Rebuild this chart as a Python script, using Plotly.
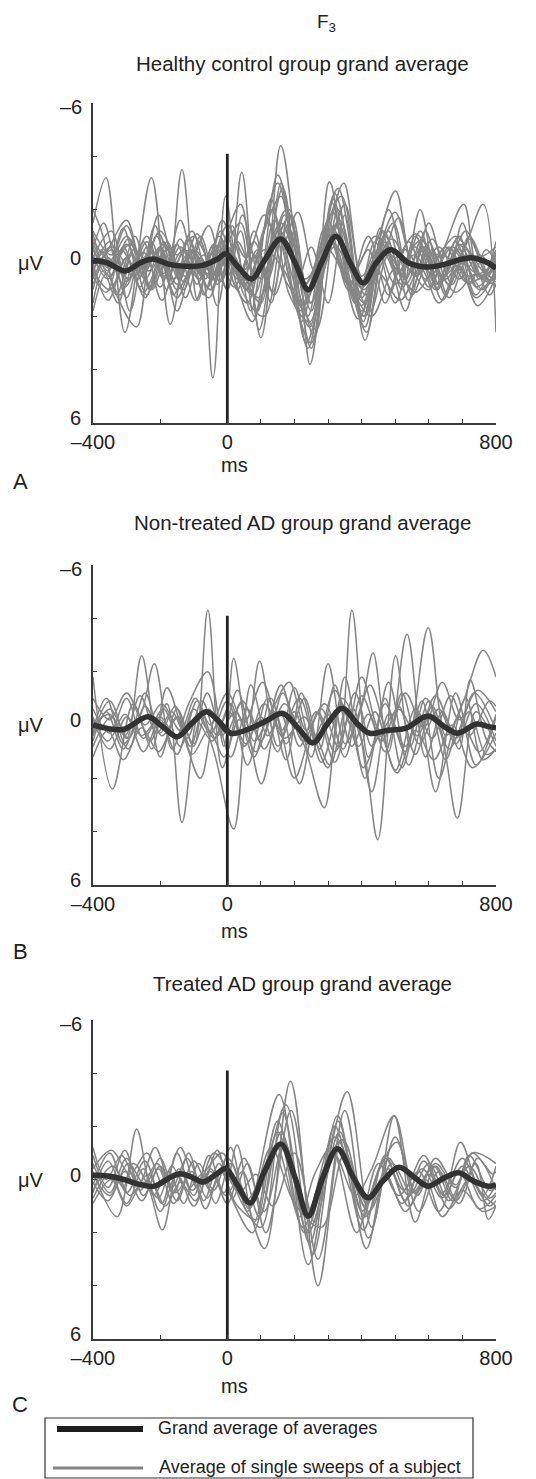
import plotly.graph_objects as go

W, H = 536, 1479

# ---------------- data ----------------
TIME_TICKS = [-400, -200, 0, 100, 200, 300, 400, 500, 600, 700, 800]
TIME_LABELS = ['–400', '', '0', '', '', '', '', '', '', '', '800']
UV_TICKS = [-6, -4, -2, 0, 2, 4, 6]
UV_LABELS = ['', '', '', '0', '', '', '6']
UV_TOP_LABEL = '–6'
STIM_X = [0, 0]
STIM_Y = [-4.1, 6]

MAIN_TITLE = 'F<sub>3</sub>'
PANEL_TITLES = ['Healthy control group grand average',
                'Non-treated AD group grand average',
                'Treated AD group grand average']
PANEL_LETTERS = ['A', 'B', 'C']
LEGEND_LABELS = ['Grand average of averages', 'Average of single sweeps of a subject']

A_GRAND = [(-400, -0.1), (-357, 0.0), (-304, 0.3), (-260, 0.0), (-222, -0.15), (-173, 0.05), (-125, 0.12),
           (-77, 0.1), (-29, -0.15), (-5, -0.35), (29, 0.1), (72, 0.6), (111, -0.1), (159, -0.9), (202, 0.0),
           (241, 1.0), (280, 0.0), (323, -1.0), (366, 0.0), (405, 0.75), (443, 0.0), (487, -0.5), (540, 0.0),
           (598, 0.15), (646, 0.05), (685, -0.1), (728, -0.2), (777, 0.0), (800, 0.2)]

A_SUBJECTS = [
    [(-400, -1.5), (-361, -3.2), (-305, 2.6), (-226, -3.2), (-170, 2.3), (-115, -1.0), (-70, 1.2), (-20, -0.8), (30, 1.0), (80, -1.2), (130, 1.5), (185, -2.0), (240, 2.0), (300, -1.6), (360, 1.0), (420, -1.0), (480, 1.2), (540, -0.8), (600, 0.9), (660, -0.6), (720, 0.8), (770, -0.5), (800, 0.0)],
    [(-400, 0.5), (-375, -0.5), (-330, 1.2), (-270, 2.4), (-225, -0.8), (-180, 1.0), (-135, -3.5), (-88, 1.4), (-45, -0.6), (0, 1.0), (43, -3.4), (95, 2.5), (150, -1.0), (200, 1.0), (250, -0.6), (300, 1.5), (350, -1.8), (410, 2.9), (470, -0.8), (520, 1.0), (574, -2.0), (630, 0.8), (690, -0.5), (750, 1.0), (800, 0.3)],
    [(-400, 1.0), (-350, -0.6), (-300, 1.3), (-250, -0.8), (-195, 1.4), (-140, -0.4), (-90, -0.3), (-43, 4.3), (-5, -2.5), (40, 0.8), (90, -0.5), (140, 1.2), (200, -1.2), (246, 3.8), (300, -1.0), (347, -3.0), (400, 0.5), (450, -1.0), (501, -2.7), (550, 0.2), (600, 1.0), (650, -0.7), (704, -2.2), (750, 0.5), (800, 0.8)],
    [(-400, -0.3), (-355, 0.6), (-300, -0.7), (-250, 0.4), (-200, -0.6), (-150, 0.8), (-100, -0.4), (-50, 0.6), (0, -0.6), (50, 0.5), (100, 1.5), (159, -4.4), (220, 1.0), (260, 2.8), (310, -2.3), (360, 0.5), (410, 2.4), (460, -0.5), (520, 0.8), (580, -0.6), (640, 0.5), (700, -0.4), (762, -2.2), (800, 2.6)],
    [(-400, -2.0), (-370, -1.0), (-330, 1.2), (-280, -0.5), (-230, 0.9), (-180, -0.8), (-130, 0.7), (-80, -1.0), (-30, 0.8), (20, -0.7), (70, 1.8), (130, -2.4), (185, 1.2), (246, 2.2), (304, -3.05), (360, 0.8), (410, 2.0), (470, -1.0), (530, 0.8), (590, -0.6), (650, 0.6), (710, -0.5), (770, 0.4), (800, 0.0)],
    [(-400, 0.3), (-350, -0.8), (-300, 0.7), (-240, -1.0), (-190, 0.6), (-140, -0.9), (-90, 0.8), (-40, -0.7), (10, 0.5), (60, 1.5), (130, -2.0), (200, 0.8), (245, 2.4), (320, -2.6), (400, 1.8), (450, -0.3), (495, -1.5), (550, 1.2), (610, -0.5), (660, 0.8), (720, -0.9), (780, 0.7), (800, 0.4)],
    [(-400, 0.5), (-360, 1.1), (-310, -0.6), (-260, 0.9), (-210, -1.0), (-160, 1.2), (-110, -0.5), (-60, 0.9), (-10, -0.8), (40, -2.2), (90, 1.8), (165, -2.8), (235, 3.0), (330, -1.5), (405, 2.0), (480, -2.0), (545, 1.0), (600, -0.4), (650, 1.2), (700, -1.5), (750, 0.6), (800, -0.5)],
    [(-400, -0.8), (-355, 0.3), (-310, -1.3), (-260, 0.5), (-205, -1.1), (-160, 0.2), (-115, -0.9), (-65, 0.6), (-20, -1.2), (30, 0.9), (75, 2.2), (140, -1.6), (200, 1.5), (250, 3.0), (315, -1.9), (380, 1.5), (430, 0.0), (480, -1.2), (540, 1.4), (600, -0.8), (660, 1.3), (720, -0.3), (780, 1.2), (800, 0.8)],
    [(-400, -0.2), (-345, -1.2), (-290, 1.8), (-240, -0.6), (-190, 0.4), (-140, -1.6), (-100, 0.2), (-55, 1.3), (-10, -0.4), (40, -1.5), (100, 2.8), (160, -3.0), (215, 1.2), (265, 2.5), (330, -2.0), (390, 1.2), (440, -0.8), (500, 1.5), (560, -1.0), (620, 0.8), (690, -1.0), (740, 0.9), (800, 0.1)],
    [(-400, -0.6), (-360, 0.4), (-315, -0.5), (-265, 0.6), (-215, -1.4), (-170, 0.8), (-120, -0.3), (-75, 0.4), (-25, -1.0), (25, 0.4), (80, 1.2), (150, -3.3), (210, 0.8), (250, 3.2), (315, -2.4), (365, 0.6), (415, 2.6), (470, -0.6), (530, 1.8), (590, -1.2), (640, 0.6), (700, -0.7), (760, 0.6), (800, -0.2)],
    [(-400, 0.0), (-340, -0.6), (-280, 0.5), (-220, -0.4), (-160, 0.6), (-100, -0.5), (-40, 0.4), (10, -0.4), (70, 0.8), (155, -1.2), (240, 1.1), (320, -1.0), (405, 1.0), (480, -0.6), (560, 0.4), (640, -0.3), (720, 0.5), (800, 0.0)],
    [(-400, -0.5), (-350, 0.2), (-290, -0.7), (-235, 0.3), (-180, -0.5), (-125, 0.5), (-70, -0.3), (-20, 0.7), (30, -0.8), (85, 0.5), (160, -1.5), (230, 0.8), (310, -1.3), (400, 0.9), (490, -0.9), (560, 0.5), (630, -0.6), (690, 0.6), (750, -0.3), (800, 0.5)],
    [(-400, 0.8), (-355, -0.2), (-305, 0.9), (-250, -0.4), (-200, 0.9), (-150, -0.7), (-95, 1.4), (-45, -0.4), (0, 1.0), (45, -1.8), (100, 0.6), (175, -2.0), (250, 1.5), (300, -1.0), (350, 0.4), (410, 1.5), (465, -1.2), (520, 0.3), (575, -1.2), (625, 1.0), (680, -0.4), (740, 1.3), (800, 0.3)],
    [(-400, -0.5), (-368, -1.5), (-320, 0.4), (-275, -1.0), (-225, 1.0), (-175, -0.3), (-130, 1.0), (-80, -0.8), (-30, 1.6), (15, -1.4), (60, 1.0), (110, -1.2), (160, -2.5), (220, 2.2), (280, -0.8), (340, -2.5), (405, 2.2), (455, -1.3), (505, 0.4), (560, -0.6), (620, 1.0), (680, -0.8), (740, 1.2), (800, -0.8)],
    [(-400, 0.2), (-360, -0.4), (-300, -1.6), (-250, 0.2), (-200, -0.5), (-150, 1.0), (-100, -0.2), (-55, -1.4), (-10, 0.4), (40, -1.2), (80, 2.0), (140, -0.6), (190, -1.8), (246, 1.5), (300, -0.2), (350, -2.2), (410, 1.2), (460, 0.0), (510, -1.7), (560, 0.5), (610, -0.9), (670, 0.8), (720, -1.0), (780, 0.5), (800, 0.6)],
    [(-400, 1.5), (-370, 0.3), (-325, 1.5), (-285, -0.3), (-240, 1.2), (-190, -0.8), (-145, 0.6), (-100, -0.5), (-60, 0.9), (-15, -0.8), (30, 0.6), (80, -0.8), (135, 1.1), (180, -1.4), (250, 1.8), (300, -1.1), (360, 0.8), (420, -0.5), (470, 1.5), (530, -0.5), (590, 0.6), (650, -0.6), (710, 0.7), (800, 0.2)],
    [(-400, -1.1), (-350, 0.5), (-295, -0.9), (-245, 0.6), (-190, -0.7), (-140, 0.4), (-90, -1.1), (-40, 0.6), (5, -0.5), (55, 1.0), (120, -1.5), (175, 0.7), (230, 1.5), (290, -1.3), (350, 0.5), (400, 1.6), (460, -0.7), (510, 0.3), (570, -0.8), (630, 0.8), (690, -0.7), (750, 0.5), (800, -0.3)],
    [(-400, 0.6), (-345, -0.5), (-295, 0.6), (-240, -0.8), (-190, 0.5), (-140, -0.6), (-85, 0.6), (-35, -0.5), (20, 0.9), (70, -0.4), (120, 0.6), (170, -1.8), (230, 0.6), (280, -0.2), (335, -1.6), (395, 0.8), (450, -0.4), (500, 0.8), (555, -0.3), (610, 0.4), (670, -0.6), (730, 0.3), (800, 0.7)],
    [(-400, 0.3), (-350, 1.0), (-300, -0.2), (-250, 1.1), (-200, 0.0), (-150, 1.3), (-100, 0.1), (-50, 1.0), (0, -0.2), (50, 0.8), (110, -0.5), (170, 0.3), (220, 1.6), (290, -0.6), (370, 1.0), (430, 2.0), (500, 0.2), (560, 1.1), (620, 0.3), (680, 1.1), (740, 0.4), (800, 0.9)],
    [(-400, -0.9), (-350, -0.1), (-300, -1.0), (-250, -0.2), (-200, -1.2), (-150, -0.3), (-100, -1.0), (-50, -0.1), (0, -1.4), (55, -0.2), (110, -1.8), (160, -0.6), (210, -1.9), (260, 0.3), (320, -1.4), (380, 0.2), (440, -1.0), (500, -0.2), (560, -1.1), (620, -0.3), (680, -1.0), (740, -0.2), (800, -0.6)],
    [(-400, 1.8), (-360, 0.4), (-320, 1.2), (-270, -0.2), (-230, 1.0), (-175, -0.6), (-125, 1.3), (-80, -0.2), (-40, 0.6), (0, -1.0), (50, 1.2), (110, 2.0), (170, -1.5), (240, 3.2), (310, -0.8), (370, 0.4), (425, 1.8), (480, -0.3), (530, 0.6), (580, -0.9), (640, 1.4), (700, 0.0), (760, 1.0), (800, 0.2)],
    [(-400, -1.2), (-345, -0.3), (-300, -1.4), (-250, 0.2), (-205, -1.8), (-155, 0.0), (-105, -1.2), (-60, 0.4), (-15, -1.6), (40, 0.3), (90, -0.4), (150, -3.0), (225, 0.9), (275, -0.4), (330, -2.8), (400, 1.3), (450, -0.5), (500, -1.9), (555, 0.2), (600, -1.5), (650, 0.2), (710, -1.2), (770, 0.3), (800, -0.4)],
    [(-400, 0.0), (-355, 1.4), (-300, -0.2), (-245, 1.3), (-195, -0.3), (-150, 1.8), (-100, 0.2), (-50, 1.0), (-5, -0.6), (40, 0.5), (95, 1.3), (160, -0.8), (215, 1.8), (270, 0.5), (320, -0.6), (390, 2.1), (450, 0.4), (515, 1.4), (575, 0.2), (630, 1.5), (690, 0.1), (745, 1.6), (800, 0.5)],
]

B_GRAND = [(-400, 0.0), (-357, 0.13), (-308, 0.16), (-236, -0.31), (-193, 0.06), (-149, 0.44), (-106, -0.06),
           (-63, -0.5), (-29, -0.19), (10, 0.31), (68, 0.13), (121, -0.19), (164, -0.44), (212, 0.13), (255, 0.67),
           (299, -0.06), (342, -0.63), (386, -0.06), (424, 0.31), (482, 0.19), (530, 0.13), (598, -0.34),
           (646, 0.06), (685, 0.31), (742, -0.04), (777, 0.06), (800, 0.1)]

B_SUBJECTS = [
    [(-400, 0.3), (-350, -0.9), (-300, 0.5), (-255, -2.6), (-200, 1.2), (-150, -0.6), (-100, 0.8), (-58, -4.3), (-15, 1.6), (40, -0.8), (101, 2.2), (165, -1.2), (225, 0.6), (280, -0.6), (330, 0.8), (371, -4.3), (420, 1.2), (470, -0.8), (530, 1.0), (598, -3.65), (650, 0.4), (700, -0.8), (762, -2.8), (800, -1.8)],
    [(-400, -1.8), (-342, 2.4), (-280, -0.8), (-230, 0.6), (-180, -0.8), (-135, 3.65), (-85, -0.4), (-40, 1.0), (19, 3.9), (70, -1.5), (120, 0.4), (170, -0.8), (230, 0.8), (289, 3.1), (340, -1.0), (400, 0.6), (448, 4.3), (501, -2.6), (545, 0.8), (590, -1.0), (640, 0.5), (685, 3.5), (740, -0.5), (800, 0.8)],
    [(-400, 0.2), (-360, -1.0), (-310, 0.7), (-255, -0.5), (-217, -2.3), (-165, 0.9), (-115, -0.8), (-58, -2.0), (-10, 0.8), (19, -2.5), (60, 0.3), (96, -2.4), (150, 0.8), (200, -0.5), (250, 1.2), (300, -2.3), (350, 0.7), (400, -0.8), (434, -2.7), (480, 1.0), (535, -3.4), (590, 1.2), (640, -0.5), (690, 0.9), (723, -1.7), (770, 0.5), (800, 1.0)],
    [(-400, -0.6), (-350, 0.3), (-300, -1.0), (-250, 0.5), (-190, -0.6), (-140, 0.8), (-90, -0.9), (-40, 0.5), (10, -0.8), (60, 1.5), (120, -1.0), (175, 1.3), (220, -1.2), (260, 0.5), (300, 1.6), (350, -1.8), (410, 2.0), (470, -1.0), (520, 1.6), (570, -0.4), (620, 2.5), (680, -1.2), (740, 1.5), (800, -0.3)],
    [(-400, 0.8), (-345, -0.3), (-295, 0.9), (-245, -0.7), (-195, 0.4), (-145, -0.3), (-100, 0.7), (-55, -0.6), (-5, 0.3), (45, -0.9), (100, 0.6), (160, -1.5), (215, 0.8), (265, -0.5), (320, 1.4), (380, -1.2), (430, 0.8), (480, -1.6), (540, 1.5), (600, -0.9), (650, 1.3), (710, -1.0), (760, 1.3), (800, 0.9)],
    [(-400, -0.3), (-355, 0.6), (-305, -0.4), (-255, 0.4), (-200, -0.3), (-150, 0.5), (-95, -0.2), (-45, 0.6), (5, -0.5), (55, 0.7), (110, -0.8), (170, 0.5), (230, -0.3), (280, 1.4), (340, -0.8), (390, 0.8), (440, -0.5), (500, 1.7), (560, -0.6), (610, 0.5), (665, -1.1), (720, 0.4), (780, -0.9), (800, -0.7)],
    [(-400, 0.0), (-350, -0.4), (-305, 0.4), (-260, -1.1), (-210, 0.3), (-165, -0.5), (-120, 0.5), (-75, -0.9), (-30, 0.4), (25, -0.5), (80, 1.2), (130, -1.0), (175, 0.7), (230, -1.0), (275, 0.9), (320, -1.5), (370, 0.8), (420, -0.4), (470, 1.0), (520, -1.2), (570, 0.7), (630, -0.6), (680, 0.7), (740, -0.8), (800, 0.6)],
    [(-400, 1.2), (-355, 0.2), (-310, 1.3), (-255, 0.1), (-205, 1.0), (-150, -0.3), (-105, 1.1), (-55, 0.2), (-10, 1.2), (35, -0.2), (85, 1.0), (140, -0.5), (200, 2.0), (255, 0.3), (305, 1.5), (355, -0.6), (405, 1.6), (455, 0.4), (505, 1.8), (560, 0.2), (615, 1.3), (670, 0.0), (730, 1.6), (800, 0.3)],
    [(-400, -1.0), (-350, -0.2), (-300, -1.2), (-245, 0.0), (-195, -0.8), (-140, 0.2), (-95, -1.0), (-50, 0.0), (0, -1.2), (50, -0.1), (105, -1.6), (160, 0.2), (215, -1.0), (265, 0.6), (320, -1.3), (375, 0.1), (425, -1.5), (480, 0.3), (530, -1.2), (585, 0.1), (640, -1.6), (690, -0.2), (745, -1.3), (800, -0.5)],
    [(-400, 0.6), (-360, -0.5), (-310, 0.9), (-265, -0.2), (-225, 0.9), (-180, -1.4), (-130, 0.4), (-80, 2.0), (-35, -0.3), (10, 1.2), (60, -0.6), (110, 0.9), (160, -0.4), (215, 2.2), (270, -0.5), (320, 1.0), (375, -0.6), (430, 2.5), (480, -0.4), (530, 0.8), (580, -0.9), (630, 2.0), (690, -0.3), (750, 1.0), (800, -0.4)],
    [(-400, -0.2), (-350, 0.9), (-300, -0.3), (-250, 1.0), (-200, -0.2), (-150, 1.1), (-100, -0.6), (-50, 0.3), (0, -0.9), (50, 0.8), (100, -0.3), (150, 1.0), (200, -1.4), (250, 0.6), (300, -0.4), (350, 1.2), (400, -1.1), (460, 0.6), (510, -0.7), (560, 1.1), (610, -0.7), (660, 0.9), (720, -0.5), (770, 1.1), (800, 0.9)],
    [(-400, 0.4), (-350, -0.6), (-295, 0.5), (-245, -1.2), (-200, 0.3), (-155, -0.7), (-110, 0.8), (-60, -1.2), (-15, 0.4), (30, -1.3), (80, 0.6), (130, -0.5), (185, -1.6), (235, 0.2), (290, -0.8), (345, 0.9), (400, -1.8), (455, 0.2), (510, -0.6), (565, 0.4), (620, -1.1), (680, 0.5), (735, -1.2), (800, 0.2)],
]

C_GRAND = [(-400, -0.16), (-357, -0.13), (-308, 0.0), (-260, 0.19), (-217, 0.25), (-173, -0.06), (-140, -0.22),
           (-106, -0.09), (-72, 0.09), (-34, -0.19), (-5, -0.41), (29, 0.19), (68, 0.88), (111, -0.31),
           (159, -1.34), (202, -0.06), (241, 1.38), (284, -0.06), (328, -1.16), (376, -0.06), (419, 0.69),
           (463, 0.06), (511, -0.46), (559, -0.06), (598, 0.25), (646, -0.06), (689, -0.25), (733, 0.06),
           (777, 0.25), (800, 0.2)]

C_SUBJECTS = [
    [(-400, -0.6), (-350, 0.5), (-300, -0.8), (-250, 0.6), (-200, -0.5), (-150, 0.8), (-100, -0.7), (-50, 0.4), (0, -0.8), (50, 0.5), (111, 2.6), (188, -3.7), (270, 4.0), (340, -1.5), (414, 2.6), (480, -0.8), (540, 0.6), (600, -0.6), (660, 0.8), (720, -0.5), (780, 0.7), (800, 0.5)],
    [(-400, 0.5), (-355, -0.7), (-310, 0.3), (-270, -1.9), (-220, 0.6), (-175, -0.3), (-130, 0.9), (-85, -0.6), (-40, 0.4), (10, -1.2), (60, 1.2), (154, -3.2), (241, 3.2), (328, -2.4), (400, 1.5), (460, -0.5), (520, 0.9), (580, -0.4), (640, 0.7), (694, -1.4), (750, 0.4), (800, 1.0)],
    [(-400, -0.3), (-328, 1.4), (-280, -0.6), (-235, 0.3), (-193, 1.9), (-145, -0.4), (-100, 0.6), (-55, -0.9), (-10, 0.5), (29, -1.3), (80, 1.6), (150, -2.2), (230, 2.0), (300, -0.8), (357, -3.3), (430, 1.8), (497, -2.4), (559, 1.6), (620, -0.5), (680, 0.8), (740, -0.6), (777, 1.5), (800, 1.0)],
    [(-400, 0.2), (-350, -1.0), (-300, 0.5), (-245, -0.7), (-195, 0.9), (-150, -1.0), (-105, 0.4), (-60, -0.4), (-15, -1.0), (40, 0.8), (100, 1.8), (165, -2.5), (245, 2.4), (320, -2.0), (405, 1.9), (470, -0.9), (530, 0.8), (585, -0.7), (640, 0.5), (700, -0.8), (760, 0.6), (800, -0.5)],
    [(-400, -0.9), (-355, 0.3), (-305, -1.1), (-260, 0.4), (-210, -0.6), (-160, 0.5), (-115, -1.0), (-70, 0.8), (-25, -0.6), (20, 0.9), (75, 2.0), (150, -1.8), (225, 1.8), (320, -1.6), (420, 1.2), (490, -0.6), (550, 0.5), (615, -0.5), (670, 0.8), (720, -0.9), (780, 0.4), (800, 0.3)],
    [(-400, 0.7), (-350, -0.2), (-300, 0.9), (-250, -0.4), (-200, 1.2), (-150, -0.2), (-100, 1.0), (-50, -0.3), (-5, 0.6), (45, -0.3), (95, 1.4), (160, -1.8), (240, 2.0), (300, -0.5), (335, -1.8), (410, 1.4), (480, -0.4), (540, 1.0), (600, -0.2), (660, 1.1), (720, 0.0), (780, 1.0), (800, 0.8)],
    [(-400, -0.4), (-345, -1.1), (-290, -0.2), (-240, -1.0), (-190, 0.2), (-140, -1.2), (-90, 0.3), (-40, -1.0), (5, -0.3), (55, 0.8), (120, -0.8), (175, -2.8), (255, 2.8), (330, -2.2), (400, 1.2), (450, -0.3), (505, -1.4), (565, 0.6), (620, -0.8), (680, 0.2), (730, -1.0), (790, -0.2), (800, -0.3)],
    [(-400, 0.1), (-355, 0.8), (-305, -0.3), (-255, 0.8), (-205, -0.4), (-160, 0.9), (-110, -0.2), (-65, 1.1), (-20, -0.3), (30, 1.0), (90, 1.5), (145, -1.3), (215, 1.4), (260, -0.2), (310, -1.2), (385, 2.0), (450, -0.6), (510, 0.6), (570, -0.3), (630, 1.2), (690, -0.3), (750, 1.1), (800, 0.6)],
    [(-400, -1.2), (-360, 0.0), (-315, -0.9), (-265, 0.2), (-215, -1.2), (-165, 0.3), (-120, -0.8), (-75, 0.2), (-30, -1.1), (15, 0.7), (60, -0.6), (115, 2.0), (190, -2.6), (270, 3.0), (350, -2.6), (420, 2.2), (500, -1.6), (570, 1.2), (630, -0.3), (690, 0.9), (745, -0.8), (800, 0.4)],
    [(-400, 0.4), (-340, -0.5), (-290, 0.6), (-235, -0.2), (-185, 1.0), (-140, 0.1), (-95, 0.8), (-50, -0.4), (0, 0.9), (50, -0.8), (110, 1.2), (170, -1.4), (235, 1.3), (290, -0.5), (345, -1.5), (410, 1.0), (470, -0.8), (525, 0.4), (585, -0.9), (645, 0.6), (700, -0.5), (760, 0.8), (800, 0.2)],
    [(-400, -0.2), (-350, 0.6), (-295, -0.6), (-245, 0.2), (-200, -0.8), (-155, 0.5), (-105, -0.3), (-60, 0.7), (-15, -0.4), (35, 0.5), (85, -0.2), (135, 1.0), (200, -1.0), (260, 1.6), (320, -0.9), (380, 0.6), (430, -0.4), (497, -2.4), (560, 0.5), (620, -0.6), (680, 0.3), (730, -1.0), (800, -0.6)],
    [(-400, 0.9), (-345, 0.0), (-300, 1.0), (-250, 0.1), (-205, 0.7), (-165, -0.5), (-120, 0.4), (-75, -0.2), (-35, 0.9), (10, -0.6), (65, 1.1), (130, -1.2), (200, 0.9), (280, 1.8), (350, -1.0), (415, 0.9), (470, -0.2), (530, 1.2), (590, 0.0), (640, 1.4), (700, 0.4), (760, 1.2), (800, 1.0)],
]

# ---------------- layout helpers ----------------
FONT = 'Liberation Sans, Arial, Helvetica, sans-serif'
GRAY = '#858585'
DARK = '#323232'
AXC = '#3a3a3a'
TXT = '#222222'


def px_x(x):
    return x / W


def px_y(y):
    return 1 - y / H


# panel geometry (pixel rows of top (-6) and bottom (+6))
PANELS = [
    dict(top=103, bottom=423, title_y=63, ms_y=465, letter_y=481),
    dict(top=565, bottom=885, title_y=522, ms_y=931, letter_y=951),
    dict(top=1020, bottom=1339, title_y=983, ms_y=1386, letter_y=1404),
]
X0_PX, X1_PX = 93, 496

fig = go.Figure()
data_sets = [(A_GRAND, A_SUBJECTS), (B_GRAND, B_SUBJECTS), (C_GRAND, C_SUBJECTS)]
annotations = []
layout_axes = {}

for i, ((grand, subjects), geo) in enumerate(zip(data_sets, PANELS)):
    n = '' if i == 0 else str(i + 1)
    xa, ya = 'x' + n, 'y' + n
    for subj in subjects:
        fig.add_trace(go.Scatter(x=[p[0] for p in subj], y=[p[1] for p in subj], mode='lines',
                                 line=dict(color=GRAY, width=1.5, shape='spline', smoothing=1.0),
                                 xaxis=xa, yaxis=ya, showlegend=False, hoverinfo='skip'))
    fig.add_trace(go.Scatter(x=STIM_X, y=STIM_Y, mode='lines', line=dict(color='#222222', width=2.8),
                             xaxis=xa, yaxis=ya, showlegend=False, hoverinfo='skip'))
    fig.add_trace(go.Scatter(x=[p[0] for p in grand], y=[p[1] for p in grand], mode='lines',
                             line=dict(color=DARK, width=5.5, shape='spline', smoothing=1.0),
                             xaxis=xa, yaxis=ya, showlegend=False, hoverinfo='skip'))

    layout_axes['xaxis' + n] = dict(
        domain=[px_x(X0_PX), px_x(X1_PX)], anchor=ya, range=[-400, 800], automargin=False,
        showline=True, linecolor=AXC, linewidth=1.6, mirror=False,
        ticks='inside', ticklen=4, tickwidth=1.3, tickcolor=AXC,
        tickvals=TIME_TICKS, ticktext=TIME_LABELS, ticklabelstandoff=0,
        tickfont=dict(family=FONT, size=20, color=TXT),
        showgrid=False, zeroline=False, fixedrange=True)
    layout_axes['yaxis' + n] = dict(
        domain=[px_y(geo['bottom']), px_y(geo['top'])], anchor=xa, range=[6, -6], automargin=False,
        showline=True, linecolor=AXC, linewidth=1.6,
        ticks='inside', ticklen=4, tickwidth=1.3, tickcolor=AXC,
        tickvals=UV_TICKS, ticktext=UV_LABELS, ticklabelstandoff=6, ticklabelshift=5,
        tickfont=dict(family=FONT, size=20, color=TXT),
        showgrid=False, zeroline=False, fixedrange=True)

    zero_px = (geo['top'] + geo['bottom']) / 2
    annotations += [
        dict(text=UV_TOP_LABEL, x=px_x(84), y=-6, xref='paper', yref=ya, yshift=-4,
             showarrow=False, xanchor='right', yanchor='middle', font=dict(family=FONT, size=20, color=TXT)),
        dict(text=PANEL_TITLES[i], x=px_x(302), y=px_y(geo['title_y']), xref='paper', yref='paper',
             showarrow=False, xanchor='center', yanchor='middle', font=dict(family=FONT, size=20.5, color=TXT)),
        dict(text='μV', x=px_x(31), y=px_y(zero_px), xref='paper', yref='paper',
             showarrow=False, xanchor='center', yanchor='middle', font=dict(family=FONT, size=20, color=TXT)),
        dict(text='ms', x=px_x(234), y=px_y(geo['ms_y']), xref='paper', yref='paper',
             showarrow=False, xanchor='center', yanchor='middle', font=dict(family=FONT, size=20, color=TXT)),
        dict(text=PANEL_LETTERS[i], x=px_x(20), y=px_y(geo['letter_y']), xref='paper', yref='paper',
             showarrow=False, xanchor='center', yanchor='middle', font=dict(family=FONT, size=22, color=TXT)),
    ]

annotations.append(dict(text=MAIN_TITLE, x=px_x(326), y=px_y(23), xref='paper', yref='paper',
                        showarrow=False, xanchor='center', yanchor='middle',
                        font=dict(family=FONT, size=19, color=TXT)))

# legend box drawn with shapes + text
shapes = [
    dict(type='rect', xref='paper', yref='paper', x0=px_x(45), x1=px_x(473), y0=px_y(1478), y1=px_y(1418),
         line=dict(color='#333', width=1.2), fillcolor='rgba(0,0,0,0)'),
    dict(type='line', xref='paper', yref='paper', x0=px_x(57), x1=px_x(143), y0=px_y(1429), y1=px_y(1429),
         line=dict(color='#1e1e1e', width=6)),
    dict(type='line', xref='paper', yref='paper', x0=px_x(53), x1=px_x(143), y0=px_y(1468), y1=px_y(1468),
         line=dict(color=GRAY, width=3)),
]
annotations += [
    dict(text=LEGEND_LABELS[0], x=px_x(156), y=px_y(1428), xref='paper', yref='paper', showarrow=False,
         xanchor='left', yanchor='middle', font=dict(family=FONT, size=18, color=TXT)),
    dict(text=LEGEND_LABELS[1], x=px_x(157), y=px_y(1467), xref='paper', yref='paper', showarrow=False,
         xanchor='left', yanchor='middle', font=dict(family=FONT, size=18, color=TXT)),
]

fig.update_layout(
    template='none',
    width=W, height=H, margin=dict(l=0, r=0, t=0, b=0, pad=0, autoexpand=False),
    paper_bgcolor='white', plot_bgcolor='white',
    font=dict(family=FONT, color=TXT),
    annotations=annotations, shapes=shapes, showlegend=False,
    **layout_axes)

fig.write_html('out.html', config={'displayModeBar': False},
               post_script="document.body.style.margin='0px';document.body.style.overflow='hidden';")
